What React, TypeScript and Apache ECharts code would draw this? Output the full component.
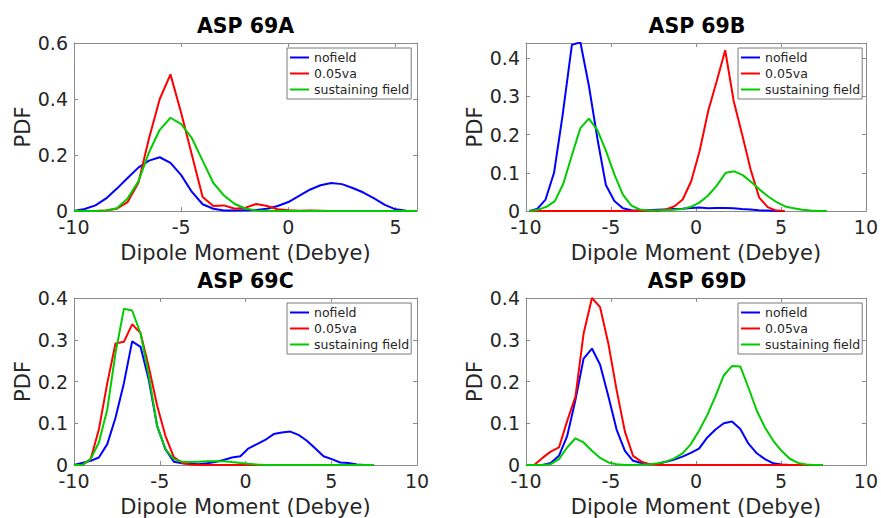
import React, { useEffect, useRef } from 'react';
import * as echarts from 'echarts';

// ---------- data ----------
const seriesNames = ['nofield', '0.05va', 'sustaining field'];
const panelTitles = ['ASP 69A', 'ASP 69B', 'ASP 69C', 'ASP 69D'];
const xLabel = 'Dipole Moment (Debye)';
const yLabel = 'PDF';

// Panel A (shared x grid)
const aX = [-10, -9.5, -9, -8.5, -8, -7.5, -7, -6.5, -6, -5.5, -5, -4.5, -4, -3.5, -3, -2.5, -2, -1.5, -1, -0.5, 0, 0.5, 1, 1.5, 2, 2.5, 3, 3.5, 4, 4.5, 5, 5.5, 6];
const aNofield = [0, 0.007, 0.02, 0.045, 0.08, 0.118, 0.155, 0.18, 0.192, 0.172, 0.128, 0.068, 0.024, 0.008, 0.002, 0.002, 0.003, 0.004, 0.008, 0.018, 0.032, 0.054, 0.076, 0.092, 0.1, 0.096, 0.082, 0.066, 0.045, 0.022, 0.006, 0.001, 0];
const a005va = [0, 0, 0, 0.002, 0.008, 0.032, 0.1, 0.26, 0.4, 0.488, 0.35, 0.2, 0.05, 0.018, 0.02, 0.008, 0.012, 0.025, 0.018, 0.006, 0.003, 0.001, 0.002, 0.001, 0, 0, 0, 0, 0, 0, 0, 0, 0];
const aSustain = [0, 0, 0, 0.002, 0.01, 0.045, 0.105, 0.21, 0.29, 0.333, 0.31, 0.26, 0.18, 0.1, 0.055, 0.025, 0.009, 0.002, 0.001, 0, 0, 0, 0, 0, 0, 0, 0, 0, 0, 0, 0, 0, 0];

// Panel B (per-series x)
const bNofieldX = [-9.8, -9.35, -8.85, -8.35, -7.85, -7.3, -6.8, -6.3, -5.8, -5.3, -4.8, -4.3, -3.8, -3.3, -2.8, -2.3, -1.8, -1.3, -0.8, -0.3, 0.2, 0.7, 1.2, 1.7, 2.2, 2.7, 3.2, 3.7, 4.2, 4.7, 5.2];
const bNofield = [0, 0.005, 0.03, 0.1, 0.25, 0.435, 0.442, 0.328, 0.19, 0.068, 0.026, 0.007, 0.002, 0.001, 0.002, 0.003, 0.004, 0.005, 0.006, 0.008, 0.009, 0.007, 0.008, 0.008, 0.007, 0.005, 0.004, 0.002, 0.001, 0, 0];
const b005vaX = [-9.78, -9.28, -8.78, -8.28, -7.78, -7.28, -6.78, -6.28, -5.78, -5.28, -4.78, -4.28, -3.78, -3.28, -2.78, -2.28, -1.78, -1.28, -0.78, -0.28, 0.22, 0.72, 1.22, 1.72, 2.22, 2.72, 3.22, 3.72, 4.22, 4.72, 5.22];
const b005va = [0, 0, 0, 0, 0, 0, 0, 0, 0, 0, 0, 0, 0, 0, 0, 0, 0.004, 0.012, 0.03, 0.078, 0.158, 0.262, 0.34, 0.421, 0.288, 0.2, 0.108, 0.035, 0.01, 0.001, 0];
const bSustainX = [-9.8, -9.3, -8.8, -8.3, -7.8, -7.3, -6.8, -6.3, -5.8, -5.3, -4.8, -4.3, -3.8, -3.3, -2.8, -2.3, -1.8, -1.3, -0.8, -0.3, 0.2, 0.7, 1.2, 1.75, 2.25, 2.75, 3.25, 3.75, 4.25, 4.75, 5.25, 5.75, 6.25, 6.75, 7.25, 7.7];
const bSustain = [0, 0.003, 0.011, 0.026, 0.072, 0.146, 0.217, 0.242, 0.212, 0.158, 0.096, 0.043, 0.014, 0.004, 0.001, 0.001, 0.002, 0.003, 0.005, 0.011, 0.022, 0.04, 0.065, 0.1, 0.104, 0.094, 0.076, 0.056, 0.038, 0.023, 0.012, 0.007, 0.003, 0.001, 0, 0];

// Panels C and D (shared x grid)
const cdX = [-10, -9.52, -9.03, -8.55, -8.06, -7.58, -7.09, -6.61, -6.12, -5.64, -5.15, -4.67, -4.18, -3.7, -3.21, -2.73, -2.24, -1.76, -1.27, -0.79, -0.3, 0.18, 0.67, 1.15, 1.64, 2.12, 2.61, 3.09, 3.58, 4.06, 4.55, 5.03, 5.52, 6.0, 6.49, 6.97, 7.46];
const cNofield = [0, 0.005, 0.01, 0.018, 0.05, 0.113, 0.196, 0.296, 0.283, 0.204, 0.093, 0.038, 0.008, 0.004, 0.003, 0.002, 0.004, 0.007, 0.012, 0.018, 0.021, 0.04, 0.05, 0.06, 0.074, 0.078, 0.08, 0.072, 0.058, 0.04, 0.021, 0.014, 0.006, 0.005, 0.001, 0, 0];
const c005va = [0, 0, 0.014, 0.085, 0.196, 0.291, 0.295, 0.337, 0.316, 0.235, 0.142, 0.07, 0.019, 0.005, 0.001, 0, 0, 0, 0, 0, 0, 0, 0, 0, 0, 0, 0, 0, 0, 0, 0, 0, 0, 0, 0, 0, 0];
const cSustain = [0, 0, 0.014, 0.054, 0.133, 0.268, 0.374, 0.37, 0.315, 0.215, 0.093, 0.038, 0.014, 0.008, 0.007, 0.008, 0.009, 0.009, 0.009, 0.007, 0.005, 0.003, 0.001, 0, 0, 0, 0, 0, 0, 0, 0, 0, 0, 0, 0, 0, 0];
const dNofield = [0, 0, 0, 0.005, 0.022, 0.069, 0.156, 0.255, 0.279, 0.24, 0.164, 0.085, 0.034, 0.01, 0.005, 0.002, 0.003, 0.008, 0.013, 0.02, 0.029, 0.039, 0.066, 0.085, 0.1, 0.104, 0.086, 0.051, 0.028, 0.014, 0.004, 0.001, 0, 0, 0, 0, 0];
const d005va = [0, 0, 0.017, 0.032, 0.042, 0.105, 0.164, 0.315, 0.4, 0.378, 0.29, 0.18, 0.08, 0.022, 0.008, 0.002, 0, 0, 0, 0, 0, 0, 0, 0, 0, 0, 0, 0, 0, 0, 0, 0, 0, 0, 0, 0, 0];
const dSustain = [0, 0, 0, 0.002, 0.014, 0.042, 0.064, 0.054, 0.034, 0.017, 0.006, 0.002, 0, 0, 0.001, 0.002, 0.004, 0.008, 0.016, 0.028, 0.05, 0.082, 0.12, 0.165, 0.215, 0.237, 0.236, 0.185, 0.13, 0.09, 0.058, 0.034, 0.015, 0.005, 0.001, 0, 0];

// axis ranges
const xRanges = [[-10, 6], [-10, 10], [-10, 10], [-10, 10]];
const yRanges = [[0, 0.6], [0, 0.44], [0, 0.4], [0, 0.4]];
const yIntervals = [0.2, 0.1, 0.1, 0.1];
const xInterval = 5;

const panelSeries: number[][][][] = [
  [[aX, aNofield], [aX, a005va], [aX, aSustain]],
  [[bNofieldX, bNofield], [b005vaX, b005va], [bSustainX, bSustain]],
  [[cdX, cNofield], [cdX, c005va], [cdX, cSustain]],
  [[cdX, dNofield], [cdX, d005va], [cdX, dSustain]],
];

// ---------- layout & style ----------
const FONT = 'DejaVu Sans';
const TXT = '#262626';
const AXC = '#8c8c8c';
const COLORS = ['#0000ff', '#ff0000', '#00cc00'];
const gridBoxes = [
  { left: 74, top: 43, width: 343, height: 168 },
  { left: 526, top: 43, width: 342, height: 168 },
  { left: 74, top: 298, width: 343, height: 168 },
  { left: 526, top: 298, width: 342, height: 168 },
];

function buildOption() {
  const grid: any[] = [];
  const xAxis: any[] = [];
  const yAxis: any[] = [];
  const series: any[] = [];
  const title: any[] = [];
  const legend: any[] = [];

  gridBoxes.forEach((g, i) => {
    grid.push({ ...g, show: false, containLabel: false });
    const [xmin, xmax] = xRanges[i];
    const [ymin, ymax] = yRanges[i];
    const yi = yIntervals[i];
    const tick = { show: true, inside: true, length: 4, lineStyle: { color: AXC, width: 1 } };
    const line = { show: true, onZero: false, lineStyle: { color: AXC, width: 1 } };
    xAxis.push({
      type: 'value', gridIndex: i, position: 'bottom', min: xmin, max: xmax, interval: xInterval,
      axisLine: line, axisTick: tick, splitLine: { show: false },
      axisLabel: {
        color: TXT, fontSize: 19, fontFamily: FONT, margin: 6,
        formatter: (v: number) => (Math.abs(v % xInterval) < 1e-9 ? String(v) : ''),
      },
      name: xLabel, nameLocation: 'middle', nameGap: 31,
      nameTextStyle: { color: TXT, fontSize: 21, fontFamily: FONT },
    });
    xAxis.push({
      type: 'value', gridIndex: i, position: 'top', min: xmin, max: xmax, interval: xInterval,
      axisLine: line, axisTick: tick, splitLine: { show: false }, axisLabel: { show: false },
    });
    yAxis.push({
      type: 'value', gridIndex: i, position: 'left', min: ymin, max: ymax, interval: yi,
      axisLine: line, axisTick: tick, splitLine: { show: false },
      axisLabel: {
        color: TXT, fontSize: 19, fontFamily: FONT, margin: 6,
        formatter: (v: number) => {
          const k = v / yi;
          if (Math.abs(k - Math.round(k)) > 1e-6) return '';
          return v === 0 ? '0' : v.toFixed(1);
        },
      },
      name: yLabel, nameLocation: 'middle', nameGap: 41, nameRotate: 90,
      nameTextStyle: { color: TXT, fontSize: 21, fontFamily: FONT },
    });
    yAxis.push({
      type: 'value', gridIndex: i, position: 'right', min: ymin, max: ymax, interval: yi,
      axisLine: line, axisTick: tick, splitLine: { show: false }, axisLabel: { show: false },
    });

    panelSeries[i].forEach(([xs, ys], s) => {
      series.push({
        type: 'line', name: seriesNames[s], xAxisIndex: 2 * i, yAxisIndex: 2 * i,
        data: xs.map((x, k) => [x, ys[k]]),
        symbol: 'none', showSymbol: false,
        lineStyle: { color: COLORS[s], width: 2 }, itemStyle: { color: COLORS[s] },
        z: 3 + s,
      });
    });

    title.push({
      text: panelTitles[i], left: g.left + g.width / 2, top: g.top - 28, textAlign: 'center',
      padding: 0,
      textStyle: { color: '#000', fontSize: 20.5, fontWeight: 'bold', fontFamily: FONT },
    });

    legend.push({
      orient: 'vertical', left: g.left + g.width - 130, top: g.top + 5,
      icon: 'rect', itemWidth: 19, itemHeight: 2, itemGap: 3,
      padding: [3, 2, 3, 3], backgroundColor: '#ffffff', borderColor: '#7a7a7a', borderWidth: 1,
      selectedMode: false,
      textStyle: { color: TXT, fontSize: 12.5, fontFamily: FONT },
      data: seriesNames,
    });
  });

  return { animation: false, backgroundColor: '#ffffff', grid, xAxis, yAxis, series, title, legend };
}

export default function App() {
  const ref = useRef<HTMLDivElement>(null);
  useEffect(() => {
    if (!ref.current) return;
    const chart = echarts.init(ref.current, undefined, { renderer: 'svg' });
    chart.setOption(buildOption() as any);
    return () => chart.dispose();
  }, []);
  return (
    <div
      ref={ref}
      style={{ position: 'fixed', left: 0, top: 0, width: 881, height: 518, background: '#fff' }}
    />
  );
}
